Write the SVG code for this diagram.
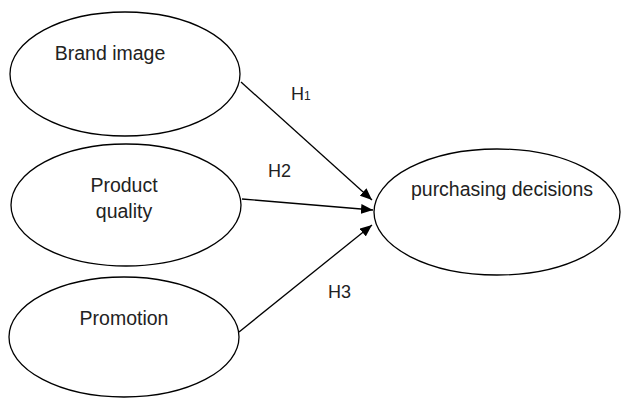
<svg xmlns="http://www.w3.org/2000/svg" width="624" height="398" viewBox="0 0 624 398">
  <style>
    .node { fill: #ffffff; stroke: #000000; stroke-width: 1.3; }
    .label { font-family: "Liberation Sans", Arial, sans-serif; font-size: 19.5px; fill: #222222; text-anchor: middle; }
    .hyp { font-family: "Liberation Sans", Arial, sans-serif; font-size: 18px; fill: #222222; }
    .edge { fill: none; stroke: #000000; stroke-width: 1.3; }
  </style>
  <defs>
    <marker id="arrow" viewBox="0 0 12 10" refX="12" refY="5" markerWidth="12" markerHeight="10" markerUnits="userSpaceOnUse" orient="auto">
      <path d="M0,0 L12,5 L0,10 z" fill="#000000"/>
    </marker>
  </defs>

  <rect width="624" height="398" fill="#ffffff"/>

  <g id="brand-image">
    <ellipse class="node" cx="125" cy="74" rx="115" ry="62"/>
    <text class="label" x="110" y="60">Brand image</text>
  </g>

  <g id="product-quality">
    <ellipse class="node" cx="126" cy="205" rx="115" ry="61"/>
    <text class="label" x="124" y="192">Product</text>
    <text class="label" x="124" y="218">quality</text>
  </g>

  <g id="promotion">
    <ellipse class="node" cx="124" cy="337" rx="115" ry="60"/>
    <text class="label" x="124" y="325">Promotion</text>
  </g>

  <g id="purchasing-decisions">
    <ellipse class="node" cx="497" cy="212" rx="123" ry="63"/>
    <text class="label" x="502" y="196">purchasing decisions</text>
  </g>

  <g id="connectors">
    <line class="edge" x1="241" y1="82" x2="372" y2="200" marker-end="url(#arrow)"/>
    <line class="edge" x1="242" y1="199" x2="373" y2="210" marker-end="url(#arrow)"/>
    <line class="edge" x1="239" y1="332" x2="372" y2="225" marker-end="url(#arrow)"/>
    <text class="hyp" x="291" y="100">H<tspan font-size="12">1</tspan></text>
    <text class="hyp" x="268" y="177">H2</text>
    <text class="hyp" x="328" y="298">H3</text>
  </g>
</svg>
